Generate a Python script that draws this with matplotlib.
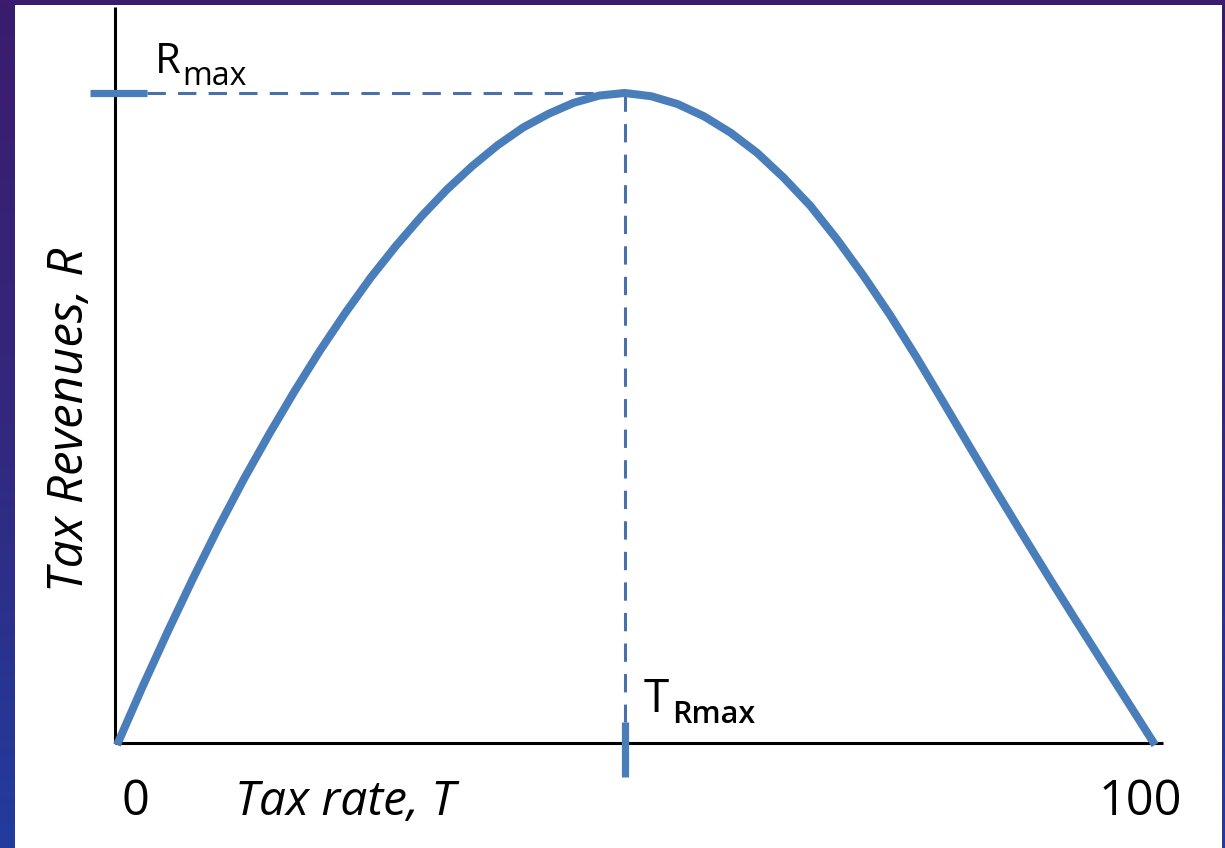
import numpy as np
import matplotlib.pyplot as plt
from matplotlib.patches import Rectangle
from matplotlib.colors import LinearSegmentedColormap

# ================= DATA =================
# Laffer curve (T in %, R in % of Rmax)
tax_rate = [0, 2.45, 4.89, 7.34, 9.78, 12.23, 14.67, 17.12, 19.56, 22.01, 24.45,
            26.90, 29.34, 31.79, 34.23, 36.68, 39.12, 41.57, 44.01, 46.46, 48.9,
            51.46, 54.01, 56.57, 59.12, 61.68, 64.23, 66.79, 69.34, 71.90, 74.45,
            77.01, 79.56, 82.12, 84.67, 87.23, 89.78, 92.34, 94.89, 97.45, 100]
revenue = [0, 8.9, 17.4, 25.6, 33.4, 40.8, 47.7, 54.3, 60.5, 66.3, 71.7,
           76.6, 81.1, 85.2, 88.8, 92.0, 94.7, 96.8, 98.5, 99.6, 100,
           99.5, 98.3, 96.4, 93.9, 90.8, 87.0, 82.7, 77.6, 72.0, 66.0,
           59.5, 52.7, 45.8, 39.0, 32.3, 25.7, 19.2, 12.8, 6.4, 0]

t_rmax = 48.9
r_max = 100
x_tick_labels = ["0", "100"]

blue = "#4a7ebb"
dash_blue = "#4a70aa"
font = ["Open Sans", "DejaVu Sans"]

# ================= FIGURE =================
fig = plt.figure(figsize=(12.25, 8.48), dpi=100)

# background gradient (purple top -> blue bottom)
bg = fig.add_axes([0, 0, 1, 1], zorder=0)
cmap = LinearSegmentedColormap.from_list("bg", ["#3b1c6e", "#33287e", "#223c9e"])
grad = np.linspace(0, 1, 256).reshape(-1, 1)
bg.imshow(grad, aspect="auto", cmap=cmap, extent=[0, 1, 0, 1], origin="upper")
bg.axis("off")

# white slide panel
fig.patches.append(Rectangle((15 / 1225, 0), 1207 / 1225, 843 / 848,
                             transform=fig.transFigure, facecolor="white",
                             edgecolor="none", zorder=1))

ax = fig.add_axes([0, 0, 1, 1], zorder=2)
ax.patch.set_alpha(0)
ax.set_xlim(-11.27, 106.74)
ax.set_ylim(-15.8, 114.26)
ax.axis("off")

# axes lines
ax.plot([-0.2, -0.2], [0.3, 113.2], color="black", lw=2.2, solid_capstyle="butt")
ax.plot([-0.2, 100.8], [0.3, 0.3], color="black", lw=2.2, solid_capstyle="butt")

# curve
ax.plot(tax_rate, revenue, color=blue, lw=5.8, solid_joinstyle="round",
        solid_capstyle="butt", zorder=5)

# guide lines to the peak
ax.plot([2.9, t_rmax], [r_max, r_max], color=dash_blue, lw=2.2,
        linestyle=(0, (6, 4)), zorder=4)
ax.plot([t_rmax, t_rmax], [r_max, 3.5], color=dash_blue, lw=2.2,
        linestyle=(0, (6, 4)), zorder=4)
ax.plot([-2.6, 2.9], [r_max, r_max], color=blue, lw=5.2, solid_capstyle="butt", zorder=4)
ax.plot([t_rmax, t_rmax], [3.5, -4.9], color=blue, lw=5.2, solid_capstyle="butt", zorder=4)

# ================= TEXT =================
ax.text(3.66, 103.1, "R", fontsize=30, family=font, va="baseline", ha="left")
ax.text(6.3, 101.2, "max", fontsize=23, family=font, va="baseline", ha="left")

ax.text(50.7, 5.06, "T", fontsize=33, family=font, va="baseline", ha="left")
ax.text(53.5, 3.3, "Rmax", fontsize=22, family=font, weight="semibold",
        va="baseline", ha="left")

ax.text(1.73, -10.7, x_tick_labels[0], fontsize=35, family=font,
        va="baseline", ha="center")
ax.text(94.6, -10.7, x_tick_labels[1], fontsize=35, family=font,
        va="baseline", ha="left")

ax.text(11.4, -10.7, "Tax rate, T", fontsize=34.5, family=font, style="italic",
        va="baseline", ha="left")
ax.text(-4.5, 49.8, "Tax Revenues, R", fontsize=35.5, family=font, style="italic",
        rotation=90, va="center", ha="center")

fig.savefig("out.png", dpi=100)
